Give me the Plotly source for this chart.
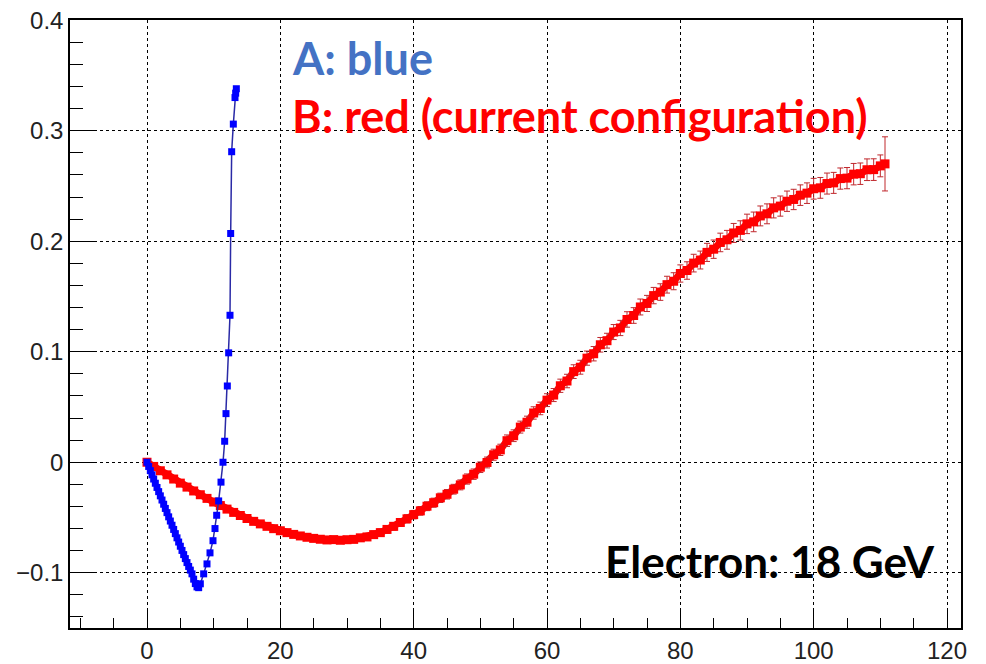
import plotly.graph_objects as go

# ---------------- data ----------------
blue_x = [0, 0.25, 0.5, 0.75, 1.0, 1.25, 1.5, 1.75, 2.0, 2.25, 2.5, 2.75, 3.0, 3.25,
          3.5, 3.75, 4.0, 4.25, 4.5, 4.75, 5.0, 5.25, 5.5, 5.75, 6.0, 6.25, 6.5, 6.75,
          7.0, 7.25, 7.5, 7.75, 8.0, 8.5, 9.0, 9.45, 9.9, 10.2, 10.45, 10.75, 11.1,
          11.4, 11.65, 11.85, 12.05, 12.25, 12.45, 12.55, 12.7, 12.95, 13.2, 13.3, 13.4]
blue_y = [0.0, -0.0038, -0.0076, -0.0114, -0.0152, -0.0190, -0.0228, -0.0266, -0.0304,
          -0.0342, -0.0380, -0.0418, -0.0456, -0.0494, -0.0532, -0.0570, -0.0608, -0.0646,
          -0.0684, -0.0722, -0.0760, -0.0798, -0.0836, -0.0872, -0.0908, -0.0943, -0.0976,
          -0.1010, -0.1058, -0.1098, -0.1128, -0.1135, -0.1100, -0.1010, -0.0920, -0.0820,
          -0.0710, -0.0600, -0.0480, -0.0350, -0.0180, 0.0000, 0.0190, 0.0440, 0.0690,
          0.0990, 0.1330, 0.2070, 0.2810, 0.3060, 0.3300, 0.3340, 0.3380]

red_x = list(range(0, 111)) + [110.7]
red_y = [0.0000, -0.0038, -0.0077, -0.0114, -0.0152, -0.0189, -0.0225, -0.0260, -0.0294, -0.0327,
         -0.0360, -0.0392, -0.0424, -0.0454, -0.0482, -0.0509, -0.0535, -0.0558, -0.0580, -0.0601,
         -0.0620, -0.0637, -0.0653, -0.0667, -0.0679, -0.0689, -0.0697, -0.0703, -0.0700, -0.0706,
         -0.0701, -0.0698, -0.0684, -0.0676, -0.0655, -0.0637, -0.0608, -0.0580, -0.0545, -0.0512,
         -0.0474, -0.0440, -0.0398, -0.0366, -0.0322, -0.0290, -0.0244, -0.0205, -0.0152, -0.0108,
         -0.0045, -0.0002, 0.0068, 0.0112, 0.0195, 0.0240, 0.0318, 0.0362, 0.0446, 0.0487,
         0.0562, 0.0608, 0.0692, 0.0735, 0.0820, 0.0860, 0.0942, 0.0982, 0.1063, 0.1100,
         0.1178, 0.1215, 0.1292, 0.1328, 0.1405, 0.1437, 0.1508, 0.1540, 0.1607, 0.1638,
         0.1708, 0.1735, 0.1802, 0.1830, 0.1899, 0.1928, 0.1989, 0.2013, 0.2075, 0.2098,
         0.2157, 0.2175, 0.2229, 0.2248, 0.2302, 0.2318, 0.2362, 0.2378, 0.2417, 0.2435,
         0.2475, 0.2483, 0.2522, 0.2528, 0.2567, 0.2571, 0.2607, 0.2611, 0.2647, 0.2648,
         0.2682, 0.2700]
red_err = [0.0008, 0.0008, 0.0009, 0.0009, 0.0010, 0.0010, 0.0011, 0.0011, 0.0012, 0.0012,
           0.0013, 0.0013, 0.0014, 0.0014, 0.0015, 0.0015, 0.0016, 0.0016, 0.0017, 0.0017,
           0.0018, 0.0019, 0.0020, 0.0021, 0.0022, 0.0023, 0.0024, 0.0025, 0.0026, 0.0027,
           0.0028, 0.0029, 0.0030, 0.0031, 0.0032, 0.0033, 0.0034, 0.0035, 0.0036, 0.0037,
           0.0038, 0.0039, 0.0040, 0.0041, 0.0042, 0.0043, 0.0044, 0.0045, 0.0046, 0.0047,
           0.0048, 0.0049, 0.0050, 0.0051, 0.0052, 0.0053, 0.0054, 0.0055, 0.0056, 0.0057,
           0.0058, 0.0059, 0.0060, 0.0061, 0.0062, 0.0063, 0.0064, 0.0065, 0.0066, 0.0067,
           0.0068, 0.0069, 0.0070, 0.0071, 0.0072, 0.0073, 0.0074, 0.0075, 0.0076, 0.0077,
           0.0078, 0.0079, 0.0080, 0.0081, 0.0082, 0.0083, 0.0084, 0.0085, 0.0086, 0.0087,
           0.0088, 0.0089, 0.0090, 0.0090, 0.0091, 0.0091, 0.0092, 0.0092, 0.0093, 0.0093,
           0.0094, 0.0094, 0.0095, 0.0095, 0.0096, 0.0096, 0.0097, 0.0097, 0.0098, 0.0098,
           0.0099, 0.0245]

x_range = [-11.55, 122.1]
y_range = [-0.15, 0.4002]

label_a = "A: blue"
label_b = "B: red (current configuration)"
label_c = "Electron: 18 GeV"

# ---------------- figure ----------------
fig = go.Figure()

fig.add_trace(go.Scatter(
    x=red_x, y=red_y, mode="lines",
    line=dict(color="#ff0000", width=7),
    showlegend=False, hoverinfo="skip"))

fig.add_trace(go.Scatter(
    x=red_x, y=red_y, mode="markers",
    marker=dict(symbol="square", size=9, color="#ff0000"),
    error_y=dict(type="data", array=red_err, visible=True,
                 color="#c0282d", thickness=1, width=3),
    showlegend=False, hoverinfo="skip"))

fig.add_trace(go.Scatter(
    x=blue_x, y=blue_y, mode="lines+markers",
    line=dict(color="#2a2aa6", width=1.5),
    marker=dict(symbol="square", size=7, color="#0000ff"),
    showlegend=False, hoverinfo="skip"))

text_font = "Lato, 'Open Sans', sans-serif"
fig.add_annotation(text="<b>" + label_a + "</b>", xref="paper", yref="paper",
                   x=0.2469, y=0.938, xanchor="left", yanchor="middle", showarrow=False,
                   font=dict(family=text_font, size=45, color="#4472c4"))
fig.add_annotation(text="<b>" + label_b + "</b>", xref="paper", yref="paper",
                   x=0.2469, y=0.8427, xanchor="left", yanchor="middle", showarrow=False,
                   font=dict(family=text_font, size=45, color="#ff0000"))
fig.add_annotation(text="<b>" + label_c + "</b>", xref="paper", yref="paper",
                   x=0.9731, y=0.110, xanchor="right", yanchor="middle", showarrow=False,
                   font=dict(family=text_font, size=44, color="#000000"))

axis_common = dict(
    showline=True, linecolor="black", linewidth=1.5, mirror=True,
    showgrid=True, gridcolor="black", gridwidth=1, griddash="dot",
    zeroline=False, ticks="inside", tickcolor="black", tickwidth=1.2,
    automargin=False, ticklabeloverflow="allow",
    tickfont=dict(family="Liberation Sans, Arial, sans-serif", size=24, color="#222"),
)

fig.update_xaxes(range=x_range, dtick=20, tick0=0, ticklen=19,
                 minor=dict(dtick=5, tick0=0, ticklen=10, ticks="inside",
                            tickcolor="black", showgrid=False),
                 **axis_common)
fig.update_yaxes(range=y_range, dtick=0.1, tick0=0, ticklen=27,
                 minor=dict(dtick=0.02, tick0=0, ticklen=13, ticks="inside",
                            tickcolor="black", showgrid=False),
                 **axis_common)

fig.update_layout(
    width=986, height=664,
    margin=dict(l=62, r=33, t=12, b=44),
    paper_bgcolor="white", plot_bgcolor="white",
    showlegend=False,
)

fig.write_html("out.html")
